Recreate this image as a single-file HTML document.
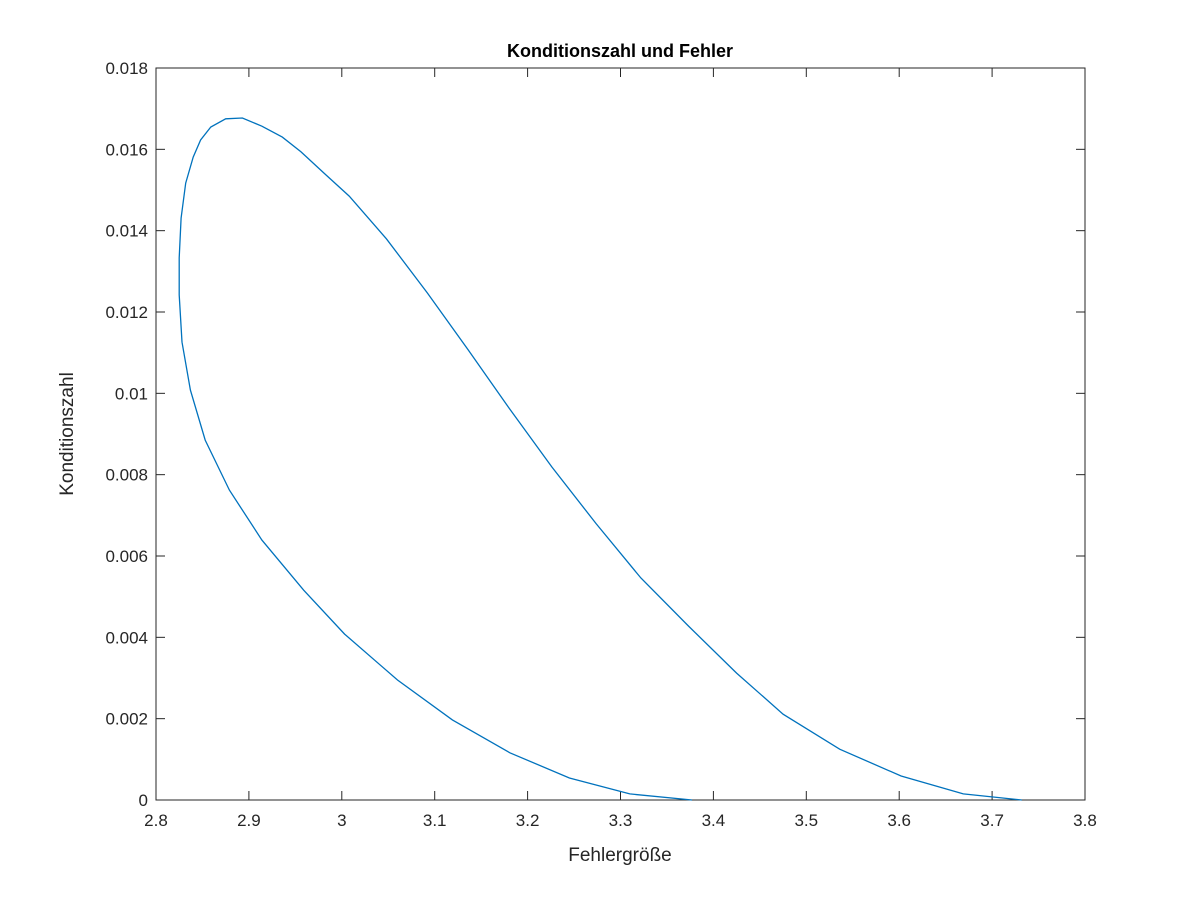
<!DOCTYPE html>
<html><head><meta charset="utf-8"><style>
body{margin:0;background:#fff}
svg{display:block;font-family:"Liberation Sans","DejaVu Sans",sans-serif}
</style></head><body>
<svg id="chart" width="1200" height="900">
<rect width="1200" height="900" fill="#fff"/>
<g id="g"></g>
</svg>
<script>
const xVals=[3.732,3.669,3.602,3.536,3.475,3.425,3.373,3.322,3.274,3.226,3.180,3.136,3.092,3.048,3.008,2.982,2.956,2.936,2.914,2.893,2.875,2.859,2.848,2.840,2.832,2.827,2.825,2.825,2.828,2.837,2.853,2.879,2.914,2.959,3.003,3.060,3.119,3.181,3.245,3.310,3.377];
const yVals=[0,0.00015,0.00059,0.00125,0.00211,0.00312,0.00428,0.00546,0.00679,0.00819,0.00964,0.01107,0.01247,0.0138,0.01485,0.01539,0.01594,0.0163,0.01657,0.01677,0.01675,0.01655,0.01623,0.01581,0.01517,0.01431,0.01333,0.01242,0.01126,0.01008,0.00885,0.00762,0.00639,0.00516,0.00408,0.00295,0.00197,0.00116,0.00054,0.00015,0];
const xTicks=[2.8,2.9,3,3.1,3.2,3.3,3.4,3.5,3.6,3.7,3.8];
const xTickLabels=["2.8","2.9","3","3.1","3.2","3.3","3.4","3.5","3.6","3.7","3.8"];
const yTicks=[0,0.002,0.004,0.006,0.008,0.01,0.012,0.014,0.016,0.018];
const yTickLabels=["0","0.002","0.004","0.006","0.008","0.01","0.012","0.014","0.016","0.018"];
const L=156,R=1085,T=68,B=800;
const sx=v=>L+(v-2.8)/(1.0)*(R-L);
const sy=v=>B-v/0.018*(B-T);
const NS="http://www.w3.org/2000/svg";
const g=document.getElementById('g');
function mk(tag,attrs,parent){const e=document.createElementNS(NS,tag);for(const k in attrs)e.setAttribute(k,attrs[k]);(parent||g).appendChild(e);return e;}
const col="#262626";
const box=mk('rect',{x:L,y:T,width:R-L,height:B-T,fill:'none',stroke:col,'stroke-width':1});


xTicks.forEach((t,i)=>{const x=sx(t);
mk('line',{x1:x,y1:B,x2:x,y2:B-9,stroke:col});
mk('line',{x1:x,y1:T,x2:x,y2:T+9,stroke:col});
const tx=mk('text',{x:x,y:B+26,'text-anchor':'middle','font-size':17,fill:col});
tx.textContent=xTickLabels[i];

});
yTicks.forEach((t,i)=>{const y=sy(t);
mk('line',{x1:L,y1:y,x2:L+9,y2:y,stroke:col});
mk('line',{x1:R,y1:y,x2:R-9,y2:y,stroke:col});
const tx=mk('text',{x:L-8,y:y+6,'text-anchor':'end','font-size':17,fill:col});
tx.textContent=yTickLabels[i];

});
const pts=xVals.map((x,i)=>sx(x).toFixed(1)+','+sy(yVals[i]).toFixed(1)).join(' ');
const line=mk('polyline',{points:pts,fill:'none',stroke:'#0072BD','stroke-width':1.3});


const ti=mk('text',{x:620,y:57,'text-anchor':'middle','font-size':18,'font-weight':'bold',fill:'#000'});
ti.textContent='Konditionszahl und Fehler';


const xl=mk('text',{x:620,y:861,'text-anchor':'middle','font-size':19,fill:col});
xl.textContent='Fehlergröße';


const yl=mk('text',{x:73,y:434,'text-anchor':'middle','font-size':19,fill:col,transform:'rotate(-90 73 434)'});
yl.textContent='Konditionszahl';


</script>
</body></html>
